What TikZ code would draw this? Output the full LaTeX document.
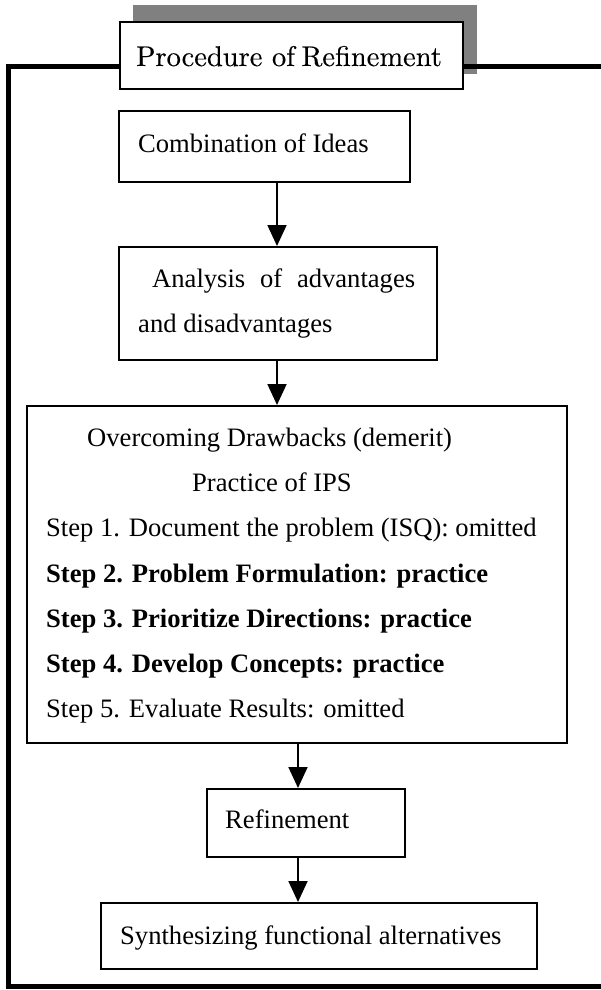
\documentclass[tikz,border=0pt]{standalone}
\usepackage{fontspec}
\newfontfamily\tnr{Liberation Serif}
\newfontfamily\headfont{lmroman10-regular.otf}[FakeBold=0.25]
\usetikzlibrary{arrows.meta}
\begin{document}
\begin{tikzpicture}[x=1pt,y=-1pt,
  box/.style={draw=black, line width=1.6pt, fill=white, inner sep=0pt, anchor=north west},
  txt/.style={inner sep=0pt, anchor=base west, font=\tnr\fontsize{26.6}{30}\selectfont},
  boldtxt/.style={txt, font=\tnr\bfseries\fontsize{26.6}{30}\selectfont},
  arr/.style={line width=1.8pt, -{Triangle[width=19pt,length=21pt]}},
  outline/.style={line width=5pt, line join=miter}]
\useasboundingbox (0,0) rectangle (600,990);

% shadow behind the heading, then the outer frame, then the heading box
\fill[black!50] (133,5) rectangle (477,74);
\draw[outline] (605,67) -- (8.5,67) -- (8.5,986) -- (605,986);
\node[box, minimum width=343pt, minimum height=67pt] (title) at (119,21) {};
\node[inner sep=0pt, anchor=base, font=\headfont\fontsize{28.5}{32}\selectfont] (titlet) at (289,66) {Procedure of\kern-3pt\ Refinement};

% boxes of the procedure
\node[box, minimum width=291pt, minimum height=71pt] (comb) at (118,110) {};
\node[box, minimum width=318pt, minimum height=113pt] (ana) at (118,246) {};
\node[box, minimum width=540pt, minimum height=337pt] (ips) at (26,405) {};
\node[box, minimum width=198pt, minimum height=68pt] (refi) at (206,788) {};
\node[box, minimum width=436pt, minimum height=66pt] (syn) at (100,902) {};

% texts
\node[txt] (combt) at (138,152) {Combination of Ideas};
\node[txt] (ana1) at (152,287) {\hbox to 263pt{Analysis\hfill of\hfill advantages}};
\node[txt] (ana2) at (138,332) {and disadvantages};
\node[txt] (ips0) at (87,446) {Overcoming Drawbacks (demerit)};
\node[txt] (ips1) at (192,491) {Practice of IPS};
\node[txt] (st1) at (46,536) {Step 1. Document the problem (ISQ): omitted};
\node[boldtxt] (st2) at (46,582) {Step 2. Problem Formulation: practice};
\node[boldtxt] (st3) at (46,627) {Step 3. Prioritize Directions: practice};
\node[boldtxt] (st4) at (46,672) {Step 4. Develop Concepts: practice};
\node[txt] (st5) at (46,717) {Step 5. Evaluate Results: omitted};
\node[txt] (refit) at (225,828) {Refinement};
\node[txt] (synt) at (120,944) {Synthesizing functional alternatives};

% connectors
\coordinate (ax1) at (277,0);
\coordinate (ax2) at (298,0);
\draw[arr] (comb.south -| ax1) -- (ana.north -| ax1);
\draw[arr] (ana.south -| ax1) -- (ips.north -| ax1);
\draw[arr] (ips.south -| ax2) -- (refi.north -| ax2);
\draw[arr] (refi.south -| ax2) -- (syn.north -| ax2);
\end{tikzpicture}
\end{document}
